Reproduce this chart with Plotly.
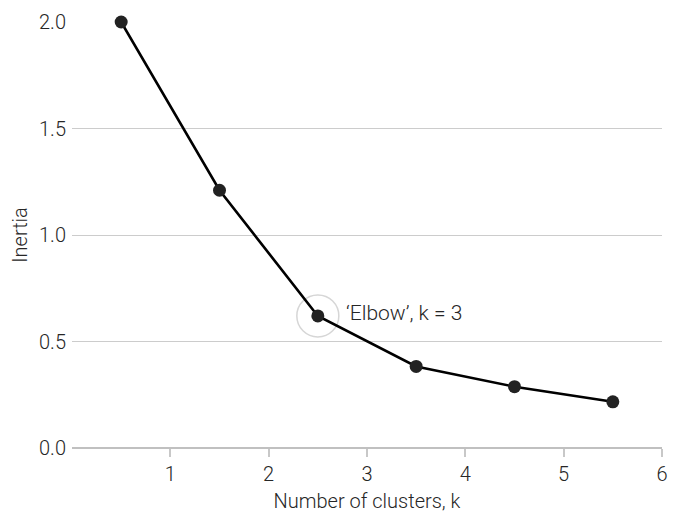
import plotly.graph_objects as go

k_pos = [0.5, 1.5, 2.5, 3.5, 4.5, 5.5]
inertia = [2.0, 1.21, 0.62, 0.383, 0.288, 0.217]
elbow_x = [2.5]
elbow_y = [0.62]
elbow_label = "\u2018Elbow\u2019, k = 3"
x_ticks = [1, 2, 3, 4, 5, 6]
y_ticks = [0.0, 0.5, 1.0, 1.5, 2.0]

font_family = "Roboto, Liberation Sans, Arial, sans-serif"
text_color = "#262626"

fig = go.Figure()
fig.add_trace(go.Scatter(
    x=elbow_x, y=elbow_y, mode="markers",
    marker=dict(symbol="circle-open", size=42, color="#d6d6d6", line=dict(width=1.5, color="#d6d6d6")),
    hoverinfo="skip", cliponaxis=False, showlegend=False,
))
fig.add_trace(go.Scatter(
    x=k_pos, y=inertia, mode="lines+markers",
    line=dict(color="#000000", width=2.6),
    marker=dict(size=13, color="#222222"),
    cliponaxis=False, showlegend=False,
))
fig.add_annotation(
    x=elbow_x[0], y=elbow_y[0], text=elbow_label, showarrow=False,
    xanchor="left", yanchor="middle", xshift=26, yshift=3,
    font=dict(size=21, color=text_color, family=font_family, weight=300),
)
fig.update_layout(
    width=681, height=516,
    margin=dict(l=72, r=19, t=22, b=68, autoexpand=False),
    plot_bgcolor="white", paper_bgcolor="white",
    font=dict(family=font_family, size=20, color=text_color, weight=300),
)
fig.update_xaxes(
    range=[0, 6.0], tickvals=x_ticks, ticks="outside", ticklen=8,
    tickcolor="#c8c8c8", tickwidth=1.5, showgrid=False, zeroline=False,
    showline=False, automargin=False,
    title=dict(text="Number of clusters, k", standoff=8, font=dict(size=20)),
    tickfont=dict(size=20),
)
fig.update_yaxes(
    range=[0, 2.0], tickvals=y_ticks, tickformat=".1f", showgrid=True,
    gridcolor="#cccccc", gridwidth=1.2, zeroline=True, zerolinecolor="#c0c0c0",
    zerolinewidth=1.5, ticks="", ticklabelstandoff=5, automargin=False,
    title=dict(text="Inertia", standoff=6, font=dict(size=20)),
    tickfont=dict(size=20),
)
fig.write_html("out.html", config={"displayModeBar": False},
               post_script="document.body.style.margin='0';")
